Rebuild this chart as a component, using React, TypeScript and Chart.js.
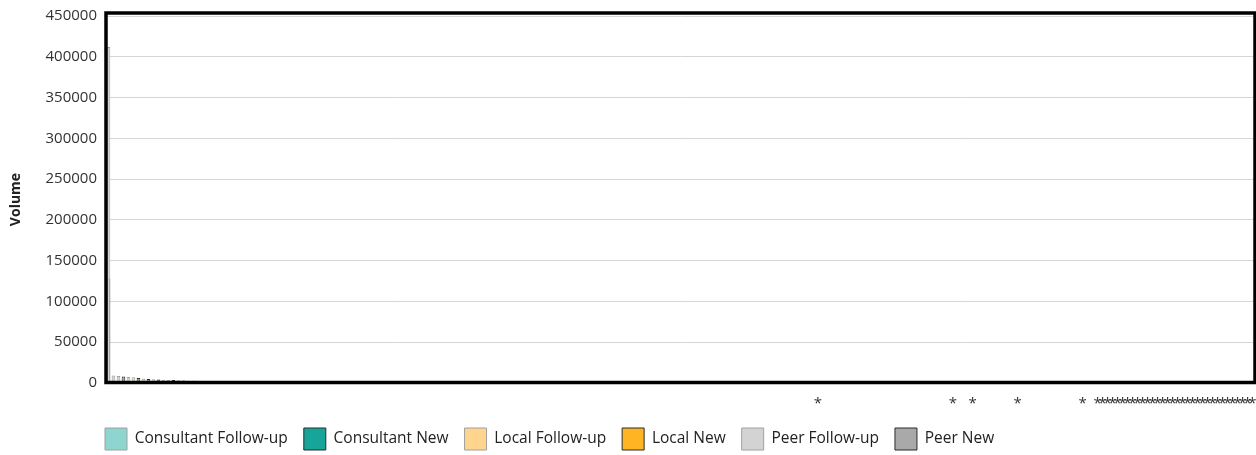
import { useEffect, useRef } from 'react';
import { Chart, registerables } from 'chart.js';

Chart.register(...registerables);

// ---- data ----
const CATEGORY_COUNT = 230;
// categories whose label is shown as a suppressed "*"
const suppressedCategories = [
  142, 169, 173, 182, 195,
  198, 199, 200, 201, 202, 203, 204, 205, 206, 207, 208, 209, 210,
  211, 212, 213, 214, 215, 216, 217, 218, 219, 220, 221, 222, 223, 224,
  225, 226, 227, 228, 229,
];

const seriesNames = [
  'Consultant Follow-up',
  'Consultant New',
  'Local Follow-up',
  'Local New',
  'Peer Follow-up',
  'Peer New',
];

const consultantFollowUp = [
  null, null, null, null, null, null, null, null, null, null,
  null, null, null, null, null, null, null, null, null, null,
  null, null, 220, null, null, null, null, 110,
];
const consultantNew = [
  null, null, null, null, null, null, null, null, null, null,
  null, null, null, null, null, null, null, null, null, null,
  null, null, null, 190, null, null, null, null, 90,
];
const localFollowUp = [
  null, null, null, null, null, 6900, null, null, null, null,
  null, null, null, null, null, null, null, null, null, null,
  1500, null, null, null, null, 150,
];
const localNew = [
  null, null, null, null, null, null, null, null, null, null,
  null, null, null, null, null, null, null, null, null, null,
  null, 1200, null, null, null, null, 120,
];
const peerFollowUp = [
  412000, 9200, 8700, null, 7400, null, null, 5400, null, 4700,
  null, 4100, 3800, null, 3400, null, 2900, null, 2500, null,
];
const peerNew = [
  128000, null, null, 8000, null, null, 6100, null, 5000, null,
  4400, null, null, 3600, null, 3100, null, 2700, null, 2200,
];

const yTicksMax = 450000;
const yTickStep = 50000;

const seriesValues = [
  consultantFollowUp,
  consultantNew,
  localFollowUp,
  localNew,
  peerFollowUp,
  peerNew,
];
const seriesFill = ['#8ed5cf', '#17a59a', '#ffd58e', '#ffb423', '#d3d3d3', '#a9a9a9'];
const seriesBorder = ['#a0a0a0', '#2b2b2b', '#a0a0a0', '#2b2b2b', '#a0a0a0', '#2b2b2b'];

const FONT = "'Open Sans', 'Noto Sans', sans-serif";

const framePlugin = {
  id: 'frame',
  afterDatasetsDraw(chart: any) {
    const { ctx, chartArea } = chart;
    const { left, top, right, bottom } = chartArea;
    ctx.save();
    ctx.strokeStyle = '#000';
    ctx.lineWidth = 3.5;
    ctx.strokeRect(left, top - 3, right - left, bottom - top + 2.5);
    ctx.restore();
  },
};

const legendPlacePlugin = {
  id: 'legendPlace',
  afterLayout(chart: any) {
    const lg = chart.legend;
    if (!lg) return;
    const w = lg.width;
    const h = lg.height;
    lg.left = 89;
    lg.top = 412;
    lg.right = lg.left + w;
    lg.bottom = lg.top + h;
  },
};

export default function App() {
  const canvasRef = useRef<HTMLCanvasElement | null>(null);

  useEffect(() => {
    document.body.style.overflow = 'hidden';
    document.documentElement.style.overflow = 'hidden';
    if (!canvasRef.current) return;
    const labels: string[] = [];
    for (let i = 0; i < CATEGORY_COUNT; i++) {
      labels.push(suppressedCategories.includes(i) ? '*' : '');
    }
    const chart = new Chart(canvasRef.current, {
      type: 'bar',
      data: {
        labels,
        datasets: seriesNames.map((name, i) => ({
          label: name,
          data: seriesValues[i] as any,
          backgroundColor: seriesFill[i],
          borderColor: seriesBorder[i],
          borderWidth: 1,
          grouped: false,
          categoryPercentage: 0.8,
          barPercentage: 0.9,
        })),
      },
      options: {
        animation: false,
        responsive: true,
        maintainAspectRatio: false,
        layout: { padding: { top: 16, right: 1, bottom: 0, left: 0 } },
        plugins: {
          tooltip: { enabled: false },
          legend: {
            position: 'bottom',
            align: 'start',
            labels: {
              boxWidth: 22,
              boxHeight: 22,
              padding: 16,
              color: '#222',
              font: { family: FONT, size: 15.5 },
            },
          },
        },
        scales: {
          x: {
            grid: { display: false, drawTicks: false },
            border: { display: false },
            ticks: {
              autoSkip: false,
              maxRotation: 0,
              minRotation: 0,
              padding: 12,
              color: '#333',
              font: { family: FONT, size: 15 },
            },
            afterFit(scale: any) {
              scale.height = 24;
              scale.paddingLeft = 0;
              scale.paddingRight = 0;
            },
          },
          y: {
            min: 0,
            max: yTicksMax,
            grid: { color: '#d6d6d6', lineWidth: 1, drawTicks: false },
            border: { display: false },
            ticks: {
              stepSize: yTickStep,
              padding: 9,
              color: '#333',
              font: { family: FONT, size: 15 },
              callback: (v: any) => String(v),
            },
            title: {
              display: true,
              text: 'Volume',
              color: '#222',
              font: { family: FONT, size: 14, weight: 'bold' },
              padding: { top: 7.5, bottom: 0 },
            },
            afterFit(scale: any) {
              scale.width = 106;
              scale.paddingTop = 0;
              scale.paddingBottom = 0;
            },
          },
        },
      },
      plugins: [framePlugin, legendPlacePlugin],
    });
    return () => chart.destroy();
  }, []);

  return (
    <div
      style={{
        position: 'absolute',
        left: 0,
        top: 0,
        width: 1256,
        height: 455,
        overflow: 'hidden',
      }}
    >
      <canvas ref={canvasRef} style={{ display: 'block' }} />
    </div>
  );
}
